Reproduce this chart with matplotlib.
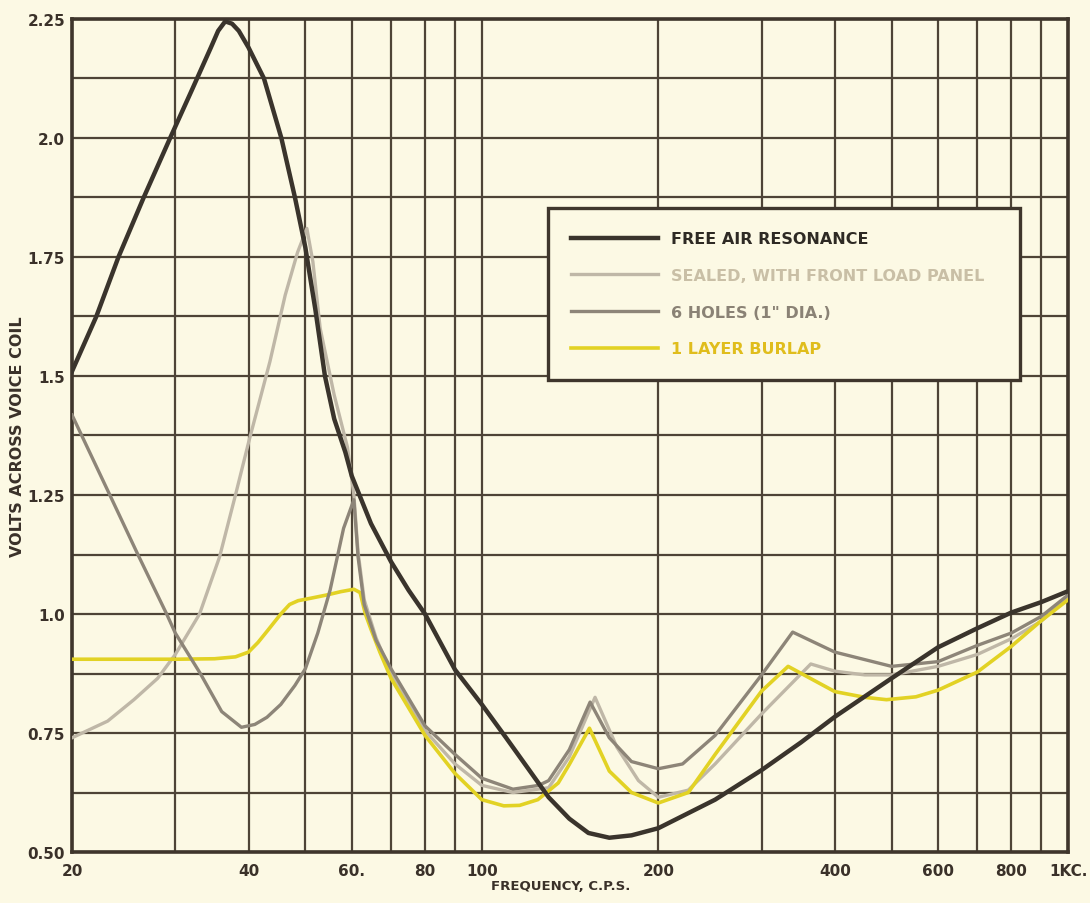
import matplotlib
matplotlib.use("Agg")
import matplotlib.pyplot as plt
from matplotlib.ticker import FixedLocator, NullFormatter

# --- data (frequency in c.p.s., volts) ---
free_air_f = [20, 22, 24, 26.5, 29.4, 32, 34.5, 35.5, 36.5, 37.5, 38.5, 40, 42.5, 45.5, 48, 50,
              52, 54, 56, 58.5, 60, 64.7, 70, 75, 80, 90, 100, 110, 120, 130, 141, 152, 165,
              180, 200, 250, 300, 350, 400, 500, 600, 700, 800, 900, 1000]
free_air_v = [1.51, 1.625, 1.75, 1.875, 2.0, 2.10, 2.19, 2.225, 2.245, 2.24, 2.225, 2.19, 2.125,
              2.0, 1.875, 1.77, 1.64, 1.50, 1.41, 1.34, 1.29, 1.19, 1.11, 1.05, 1.0, 0.883,
              0.81, 0.74, 0.675, 0.615, 0.57, 0.54, 0.53, 0.535, 0.55, 0.61, 0.672, 0.73,
              0.784, 0.865, 0.93, 0.97, 1.003, 1.025, 1.048]

sealed_f = [20, 23, 25.5, 28, 30, 33, 35.7, 38, 40, 43.5, 46.2, 48.5, 50.3, 51.5, 53, 56, 59,
            60.5, 61.5, 63, 66, 70, 80, 90, 100, 113, 130, 141, 156, 170, 185, 200, 225, 250,
            300, 364, 400, 450, 500, 600, 700, 800, 900, 1000]
sealed_v = [0.74, 0.775, 0.82, 0.865, 0.915, 1.0, 1.12, 1.25, 1.36, 1.53, 1.67, 1.76, 1.81,
            1.74, 1.60, 1.46, 1.35, 1.25, 1.13, 1.03, 0.95, 0.875, 0.755, 0.685, 0.64, 0.625,
            0.635, 0.70, 0.825, 0.72, 0.65, 0.615, 0.63, 0.685, 0.79, 0.895, 0.88, 0.872,
            0.872, 0.89, 0.915, 0.948, 0.985, 1.035]

holes_f = [20, 23.2, 25.9, 29, 30, 33.1, 36, 38.9, 41, 43, 45.4, 48, 50, 52.5, 55.1, 58.1, 60.5,
           61.5, 63, 66, 70, 80, 90, 100, 113, 125, 130, 141, 153, 165, 180, 200, 220, 250,
           300, 339, 400, 500, 600, 700, 800, 900, 1000]
holes_v = [1.418, 1.25, 1.125, 1.0, 0.96, 0.875, 0.795, 0.762, 0.768, 0.783, 0.81, 0.85, 0.885,
           0.96, 1.05, 1.18, 1.24, 1.12, 1.02, 0.945, 0.885, 0.765, 0.705, 0.655, 0.632, 0.64,
           0.65, 0.715, 0.815, 0.74, 0.69, 0.675, 0.685, 0.745, 0.872, 0.962, 0.92, 0.89,
           0.90, 0.934, 0.96, 0.995, 1.04]

burlap_f = [20, 25, 30, 35, 38, 40, 41.5, 43.1, 45.4, 47, 48.6, 51, 54.4, 57.5, 60.5, 62, 63.3,
            64.7, 67, 70, 80, 90, 100, 109, 116, 124.6, 135, 141, 152.6, 165, 180, 200, 225,
            250, 300, 333, 400, 450, 490, 550, 600, 700, 800, 900, 1000]
burlap_v = [0.905, 0.905, 0.905, 0.906, 0.91, 0.92, 0.94, 0.965, 1.0, 1.02, 1.028, 1.033, 1.04,
            1.047, 1.052, 1.045, 1.0, 0.968, 0.92, 0.865, 0.745, 0.665, 0.61, 0.597, 0.598,
            0.61, 0.645, 0.684, 0.76, 0.67, 0.625, 0.603, 0.625, 0.705, 0.838, 0.89, 0.837,
            0.825, 0.82, 0.826, 0.84, 0.878, 0.932, 0.986, 1.03]

x_ticks = [20, 40, 60, 80, 100, 200, 400, 600, 800, 1000]
x_labels = ["20", "40", "60.", "80", "100", "200", "400", "600", "800", "1KC."]
x_minor = [30, 50, 70, 90, 300, 500, 700, 900]
y_ticks = [0.5, 0.75, 1.0, 1.25, 1.5, 1.75, 2.0, 2.25]
y_labels = ["0.50", "0.75", "1.0", "1.25", "1.5", "1.75", "2.0", "2.25"]
y_minor = [0.625, 0.875, 1.125, 1.375, 1.625, 1.875, 2.125]

PAPER = "#fcf9e4"
INK = "#4e4436"

fig = plt.figure(figsize=(10.9, 9.04), dpi=100, facecolor=PAPER)
ax = fig.add_axes([0.0661, 0.0564, 0.9138, 0.9215], facecolor=PAPER)

ax.set_xscale("log")
ax.set_xlim(20, 1000)
ax.set_ylim(0.5, 2.25)

ax.xaxis.set_major_locator(FixedLocator(x_ticks))
ax.xaxis.set_minor_locator(FixedLocator(x_minor))
ax.xaxis.set_minor_formatter(NullFormatter())
ax.set_xticklabels(x_labels)
ax.yaxis.set_major_locator(FixedLocator(y_ticks))
ax.yaxis.set_minor_locator(FixedLocator(y_minor))
ax.set_yticklabels(y_labels)

ax.grid(True, which="both", color=INK, linewidth=1.6)
ax.set_axisbelow(True)
ax.tick_params(which="both", length=0)
ax.tick_params(axis="x", pad=8)
ax.tick_params(axis="y", pad=5)
for lab in ax.get_xticklabels() + ax.get_yticklabels():
    lab.set_fontsize(11)
    lab.set_fontweight("bold")
    lab.set_color("#3a3129")
for sp in ax.spines.values():
    sp.set_color("#3f362c")
    sp.set_linewidth(2.6)

ax.plot(sealed_f, sealed_v, color="#bfb7a7", lw=2.4, label="SEALED, WITH FRONT LOAD PANEL", zorder=3)
ax.plot(holes_f, holes_v, color="#8d8578", lw=2.4, label="6 HOLES (1\" DIA.)", zorder=4)
ax.plot(burlap_f, burlap_v, color="#e2d224", lw=2.6, label="1 LAYER BURLAP", zorder=3)
ax.plot(free_air_f, free_air_v, color="#3a342c", lw=3.2, label="FREE AIR RESONANCE", zorder=5)

handles, labels = ax.get_legend_handles_labels()
order = [3, 0, 1, 2]
leg = ax.legend([handles[i] for i in order], [labels[i] for i in order],
                loc="upper left", bbox_to_anchor=(0.478, 0.563, 0.474, 0.21),
                mode="expand", frameon=True, fancybox=False, framealpha=1,
                facecolor=PAPER, edgecolor="#3f362c", handlelength=5.4,
                handletextpad=0.85, labelspacing=1.36, borderpad=1.45,
                borderaxespad=0, prop={"size": 11.5, "weight": "bold"})
leg.get_frame().set_linewidth(2.4)
leg.set_zorder(10)
text_colors = ["#2e2a24", "#c9bfa6", "#8a8275", "#e0bd1c"]
for t, c in zip(leg.get_texts(), text_colors):
    t.set_color(c)

fig.text(0.0165, 0.517, "VOLTS ACROSS VOICE COIL", rotation=90, ha="center", va="center",
         fontsize=11.5, fontweight="bold", color="#3a3129")
fig.text(0.514, 0.019, "FREQUENCY, C.P.S.", ha="center", va="center",
         fontsize=9.5, fontweight="bold", color="#3a3129")

fig.savefig("out.png", dpi=100, facecolor=PAPER)
